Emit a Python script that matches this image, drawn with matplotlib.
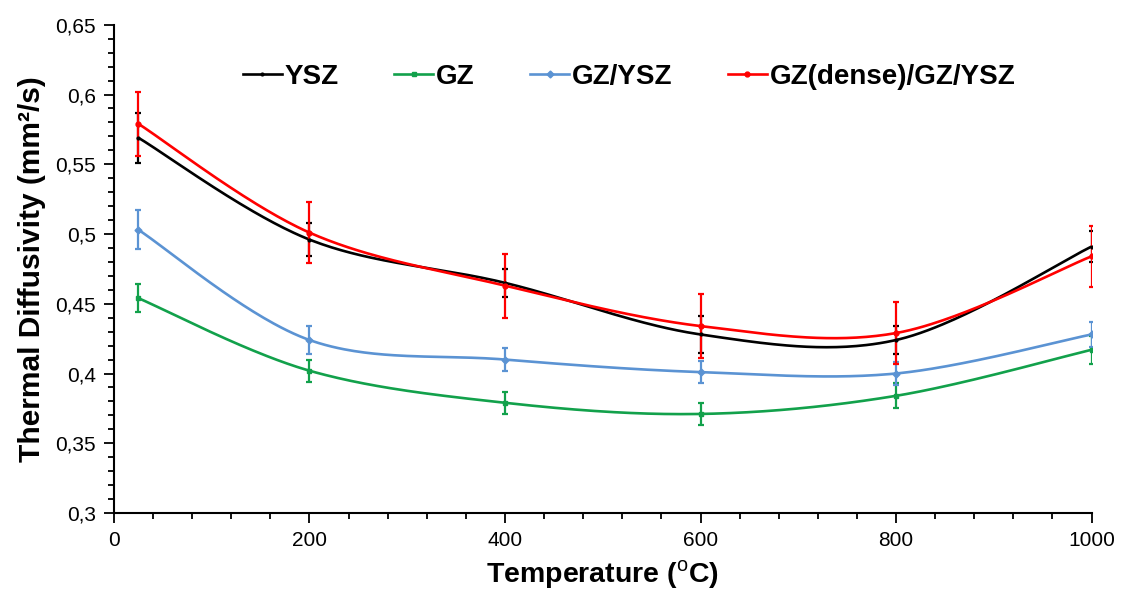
import matplotlib
matplotlib.use('Agg')
import matplotlib.pyplot as plt
import numpy as np
from matplotlib.ticker import MultipleLocator, FuncFormatter

plt.rcParams['font.family'] = ['Liberation Sans', 'DejaVu Sans']
plt.rcParams['mathtext.fontset'] = 'custom'
plt.rcParams['mathtext.rm'] = 'Liberation Sans'

# data
temperature = [25, 200, 400, 600, 800, 1000]

ysz = [0.569, 0.496, 0.465, 0.428, 0.424, 0.491]
ysz_err = [0.018, 0.012, 0.010, 0.013, 0.010, 0.011]

gz = [0.454, 0.402, 0.379, 0.371, 0.384, 0.417]
gz_err = [0.010, 0.008, 0.008, 0.008, 0.009, 0.010]

gz_ysz = [0.503, 0.424, 0.410, 0.401, 0.400, 0.428]
gz_ysz_err = [0.014, 0.010, 0.008, 0.008, 0.008, 0.009]

dense = [0.579, 0.501, 0.463, 0.434, 0.429, 0.484]
dense_err = [0.023, 0.022, 0.023, 0.023, 0.022, 0.022]

names = ['YSZ', 'GZ', 'GZ/YSZ', 'GZ(dense)/GZ/YSZ']
colors = ['#000000', '#12a14b', '#5b93d3', '#ff0000']
markers = ['o', 's', 'D', 'o']
msizes = [2.0, 3.5, 3.5, 3.5]


def smooth(x, y, n=60):
    # excel-like smoothed line (catmull-rom as bezier)
    x = np.asarray(x, float)
    y = np.asarray(y, float)
    px = np.concatenate([[x[0]], x, [x[-1]]])
    py = np.concatenate([[y[0]], y, [y[-1]]])
    t = np.linspace(0, 1, n)
    xs, ys = [], []
    for i in range(1, len(px) - 2):
        p0 = np.array([px[i], py[i]])
        p3 = np.array([px[i + 1], py[i + 1]])
        c1 = p0 + (p3 - np.array([px[i - 1], py[i - 1]])) / 6
        c2 = p3 - (np.array([px[i + 2], py[i + 2]]) - p0) / 6
        b = ((1 - t) ** 3)[:, None] * p0 + (3 * (1 - t) ** 2 * t)[:, None] * c1 \
            + (3 * (1 - t) * t ** 2)[:, None] * c2 + (t ** 3)[:, None] * p3
        xs.append(b[:, 0])
        ys.append(b[:, 1])
    return np.concatenate(xs), np.concatenate(ys)


fig = plt.figure(figsize=(11.23, 5.99), dpi=100)
ax = fig.add_axes([0.1015, 0.1436, 0.8705, 0.815])

series = [(ysz, ysz_err), (gz, gz_err), (gz_ysz, gz_ysz_err), (dense, dense_err)]
for (vals, errs), name, c, m, ms in zip(series, names, colors, markers, msizes):
    sx, sy = smooth(temperature, vals)
    ax.plot(sx, sy, color=c, lw=1.9, zorder=3)
    ax.errorbar(temperature, vals, yerr=errs, fmt='none', ecolor=c,
                elinewidth=1.6, capsize=2.5, capthick=1.6, zorder=4)
    ax.plot(temperature, vals, ls='none', marker=m, ms=ms, color=c, zorder=5)
    ax.plot([], [], color=c, lw=1.9, marker=m, ms=ms, label=name)

ax.set_xlim(0, 1000)
ax.set_ylim(0.3, 0.65)
ax.xaxis.set_major_locator(MultipleLocator(200))
ax.xaxis.set_minor_locator(MultipleLocator(40))
ax.yaxis.set_major_locator(MultipleLocator(0.05))
ax.yaxis.set_minor_locator(MultipleLocator(0.01))
ax.yaxis.set_major_formatter(FuncFormatter(lambda v, p: f'{v:g}'.replace('.', ',')))

for s in ['top', 'right']:
    ax.spines[s].set_visible(False)
for s in ['left', 'bottom']:
    ax.spines[s].set_linewidth(1.5)

ax.tick_params(which='major', direction='out', length=7, width=1.3, labelsize=15, pad=6)
ax.tick_params(which='minor', direction='out', length=4.5, width=1.3)

ax.set_xlabel('Temperature ($^{\\mathrm{o}}$C)', fontsize=20.5, fontweight='bold', labelpad=6)
ax.set_ylabel('Thermal Diffusivity (mm²/s)', fontsize=21.5, fontweight='bold', labelpad=7)

ax.legend(loc='center', bbox_to_anchor=(0.527, 0.893), ncol=4, frameon=False,
          prop={'size': 20, 'weight': 'bold'}, handlelength=1.4,
          handletextpad=0.1, columnspacing=2.0)

fig.savefig('out.png', dpi=100)
